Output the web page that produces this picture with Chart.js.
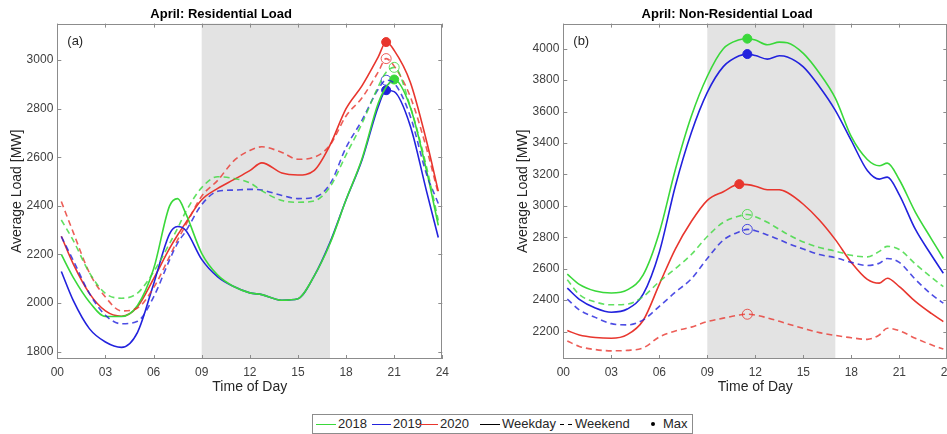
<!DOCTYPE html>
<html>
<head>
<meta charset="utf-8">
<script src="https://cdn.jsdelivr.net/npm/chart.js@4.4.1/dist/chart.umd.min.js"></script>
<style>
  html, body { margin: 0; padding: 0; background: #fff; width: 947px; height: 434px; overflow: hidden; }
  .box { position: absolute; top: 0; height: 402px; }
  #leftBox { left: 0; width: 470px; }
  #rightBox { left: 470px; width: 490px; }
  #legend { position: absolute; left: 312px; top: 414px; width: 379px; height: 18px; border: 1px solid #8c8c8c; background: #fff;
            font: 13px "Liberation Sans", Arial, sans-serif; color: #262626; }
  #legend .ln { position: absolute; top: 9px; height: 0; border-top: 1.5px solid; }
  #legend .tx { position: absolute; top: 0; line-height: 18px; }
  #legend .dot { position: absolute; top: 7px; width: 4px; height: 4px; border-radius: 50%; background: #000; }
</style>
</head>
<body>
<div id="leftBox" class="box"><canvas id="resChart"></canvas></div>
<div id="rightBox" class="box"><canvas id="nonChart"></canvas></div>
<div id="legend">
  <span class="ln" style="left:3px;width:20px;border-color:#3ad83a"></span><span class="tx" style="left:25px">2018</span>
  <span class="ln" style="left:59px;width:19px;border-color:#2222dd"></span><span class="tx" style="left:80px">2019</span>
  <span class="ln" style="left:106px;width:19px;border-color:#e8362e"></span><span class="tx" style="left:127px">2020</span>
  <span class="ln" style="left:167px;width:20px;border-color:#000"></span><span class="tx" style="left:189px">Weekday</span>
  <span class="ln" style="left:247px;width:4px;border-color:#000"></span><span class="ln" style="left:255px;width:4px;border-color:#000"></span><span class="tx" style="left:262px">Weekend</span>
  <span class="dot" style="left:338px"></span><span class="tx" style="left:350px">Max</span>
</div>
<script>
// ---- data ----
const xTicks = [0, 3, 6, 9, 12, 15, 18, 21, 24];
const shadeHours = [9, 17];

// (a) residential
const resHours = [0.25, 1, 2, 3, 4, 5, 6, 7, 7.5, 8, 9, 10, 11, 12, 12.75, 14, 15, 16, 17, 18, 19, 20, 20.5, 21, 22, 23, 23.75];
const resWd2018 = [2200, 2105, 2005, 1945, 1945, 1990, 2140, 2400, 2430, 2370, 2205, 2115, 2068, 2042, 2035, 2012, 2018, 2110, 2245, 2425, 2595, 2821, 2889, 2920, 2807, 2550, 2320];
const resWd2019 = [2130, 2010, 1895, 1840, 1818, 1880, 2078, 2285, 2315, 2300, 2180, 2108, 2068, 2042, 2035, 2012, 2018, 2110, 2250, 2425, 2590, 2807, 2876, 2870, 2730, 2465, 2270];
const resWd2020 = [2275, 2160, 2040, 1968, 1946, 1985, 2100, 2225, 2280, 2330, 2425, 2472, 2508, 2545, 2577, 2535, 2527, 2545, 2650, 2800, 2895, 3012, 3074, 3040, 2910, 2671, 2460];
const resWe2018 = [2342, 2257, 2125, 2040, 2020, 2041, 2128, 2245, 2308, 2375, 2475, 2520, 2513, 2495, 2462, 2422, 2415, 2420, 2478, 2610, 2740, 2890, 2950, 2970, 2810, 2565, 2340];
const resWe2019 = [2274, 2175, 2040, 1950, 1915, 1925, 2025, 2178, 2247, 2295, 2405, 2460, 2465, 2468, 2465, 2443, 2430, 2435, 2490, 2640, 2753, 2880, 2917, 2905, 2770, 2534, 2410];
const resWe2020 = [2418, 2290, 2125, 2025, 1968, 1980, 2063, 2192, 2260, 2320, 2440, 2505, 2585, 2628, 2643, 2620, 2592, 2600, 2650, 2770, 2845, 2950, 3006, 2975, 2850, 2640, 2450];
const resYTicks = [1800, 2000, 2200, 2400, 2600, 2800, 3000];
const resYRange = [1770, 3150];

// (b) non-residential
const nonHours = [0.25, 1, 2, 3, 4, 5, 6, 7, 8, 9, 10, 11, 11.5, 12, 12.75, 13.5, 14, 15, 16, 17, 18, 19, 19.75, 20.25, 21, 22, 23, 23.75];
const nonWd2018 = [2565, 2500, 2458, 2445, 2465, 2562, 2830, 3230, 3570, 3825, 4000, 4057, 4064, 4055, 4025, 4042, 4038, 3970, 3845, 3685, 3440, 3295, 3255, 3272, 3166, 2960, 2790, 2665];
const nonWd2019 = [2476, 2405, 2350, 2323, 2343, 2440, 2705, 3125, 3465, 3722, 3886, 3955, 3966, 3957, 3934, 3955, 3948, 3885, 3760, 3608, 3415, 3225, 3170, 3183, 3070, 2851, 2687, 2571];
const nonWd2020 = [2206, 2178, 2162, 2157, 2180, 2272, 2500, 2725, 2900, 3035, 3090, 3138, 3135, 3125, 3102, 3102, 3085, 3010, 2910, 2785, 2640, 2532, 2508, 2539, 2486, 2392, 2315, 2263];
const nonWe2018 = [2529, 2435, 2388, 2370, 2374, 2423, 2518, 2600, 2690, 2805, 2895, 2935, 2945, 2930, 2895, 2850, 2820, 2770, 2735, 2712, 2685, 2675, 2710, 2742, 2722, 2630, 2545, 2486];
const nonWe2019 = [2406, 2338, 2290, 2250, 2242, 2274, 2360, 2450, 2535, 2665, 2782, 2835, 2850, 2842, 2815, 2785, 2762, 2725, 2690, 2670, 2640, 2620, 2635, 2665, 2640, 2532, 2437, 2380];
const nonWe2020 = [2140, 2105, 2085, 2077, 2080, 2096, 2165, 2203, 2228, 2263, 2285, 2305, 2310, 2305, 2287, 2265, 2249, 2220, 2193, 2175, 2160, 2150, 2178, 2221, 2205, 2157, 2115, 2088];
const nonYTicks = [2200, 2400, 2600, 2800, 3000, 3200, 3400, 3600, 3800, 4000];
const nonYRange = [2025, 4160];

const years = ['2018', '2019', '2020'];
const colors = ['#3ad83a', '#2222dd', '#e8362e'];
const fontFam = '"Liberation Sans", Arial, Helvetica, sans-serif';

function pts(hours, vals) {
  return hours.map((h, i) => ({x: h, y: vals[i]}));
}
function peak(hours, vals) {
  const i = vals.indexOf(Math.max(...vals));
  return [{x: hours[i], y: vals[i]}];
}
function fade(hex, a) {
  const n = parseInt(hex.slice(1), 16);
  return `rgba(${n >> 16},${(n >> 8) & 255},${n & 255},${a})`;
}

// grey band, box and inward ticks like the original figure
const boxPlugin = {
  id: 'matlabBox',
  beforeDatasetsDraw(chart, args, opts) {
    const {ctx, chartArea: a, scales: {x}} = chart;
    const x0 = x.getPixelForValue(opts.shade[0]);
    const x1 = x.getPixelForValue(opts.shade[1]);
    ctx.save();
    ctx.fillStyle = '#e3e3e3';
    ctx.fillRect(x0, a.top, x1 - x0, a.bottom - a.top);
    ctx.restore();
  },
  afterDraw(chart, args, opts) {
    const {ctx, chartArea: a, scales: {x, y}} = chart;
    ctx.save();
    ctx.strokeStyle = '#8c8c8c';
    ctx.lineWidth = 1;
    ctx.strokeRect(Math.round(a.left) + 0.5, Math.round(a.top) + 0.5, Math.round(a.right - a.left) - 1, Math.round(a.bottom - a.top) - 1);
    ctx.beginPath();
    x.ticks.forEach(t => {
      const px = Math.round(x.getPixelForValue(t.value)) + 0.5;
      ctx.moveTo(px, a.bottom); ctx.lineTo(px, a.bottom - 4);
      ctx.moveTo(px, a.top); ctx.lineTo(px, a.top + 4);
    });
    y.ticks.forEach(t => {
      const py = Math.round(y.getPixelForValue(t.value)) + 0.5;
      ctx.moveTo(a.left, py); ctx.lineTo(a.left + 4, py);
      ctx.moveTo(a.right, py); ctx.lineTo(a.right - 4, py);
    });
    ctx.stroke();
    ctx.fillStyle = '#262626';
    ctx.font = '13px ' + fontFam;
    ctx.textBaseline = 'middle';
    ctx.fillText(opts.tag, a.left + 10, a.top + 18);
    ctx.restore();
  }
};

function makeChart(id, title, tag, hours, wd, we, yTicks, yRange, padLeft, padRight) {
  const datasets = [];
  [0, 1, 2].forEach(k => {
    datasets.push({
      label: years[k] + ' Weekend', data: pts(hours, we[k]),
      borderColor: fade(colors[k], 0.8), borderWidth: 1.6, borderDash: [6, 4],
      pointRadius: 0, cubicInterpolationMode: 'monotone'
    });
  });
  [0, 1, 2].forEach(k => {
    datasets.push({
      label: years[k] + ' Weekday', data: pts(hours, wd[k]),
      borderColor: colors[k], borderWidth: 1.6,
      pointRadius: 0, cubicInterpolationMode: 'monotone'
    });
  });
  [0, 1, 2].forEach(k => {
    datasets.push({
      label: years[k] + ' Weekend max', data: peak(hours, we[k]), showLine: false,
      pointRadius: 5, pointBorderWidth: 1, pointBorderColor: fade(colors[k], 0.8),
      pointBackgroundColor: 'rgba(0,0,0,0)'
    });
    datasets.push({
      label: years[k] + ' Weekday max', data: peak(hours, wd[k]), showLine: false,
      pointRadius: 4.5, pointBorderWidth: 1, pointBorderColor: colors[k],
      pointBackgroundColor: colors[k]
    });
  });

  return new Chart(document.getElementById(id), {
    type: 'line',
    data: {datasets},
    plugins: [boxPlugin],
    options: {
      responsive: true,
      maintainAspectRatio: false,
      animation: false,
      layout: {padding: {left: padLeft, right: padRight, top: 0, bottom: 0}},
      plugins: {
        legend: {display: false},
        tooltip: {enabled: false},
        title: {
          display: true, text: title, color: '#000',
          font: {family: fontFam, size: 13, weight: 'bold'},
          padding: {top: 7, bottom: 1}
        },
        matlabBox: {shade: shadeHours, tag: tag}
      },
      scales: {
        x: {
          type: 'linear', min: 0, max: 24,
          afterBuildTicks: s => { s.ticks = xTicks.map(v => ({value: v})); },
          afterFit: s => { s.height = 43; },
          grid: {display: false, drawTicks: false},
          border: {display: false},
          ticks: {
            padding: 6, color: '#404040', font: {family: fontFam, size: 12},
            maxRotation: 0, autoSkip: false,
            callback: v => String(v).padStart(2, '0')
          },
          title: {
            display: true, text: 'Time of Day', color: '#262626',
            font: {family: fontFam, size: 14}, padding: {top: 0, bottom: 6}
          }
        },
        y: {
          min: yRange[0], max: yRange[1],
          afterBuildTicks: s => { s.ticks = yTicks.map(v => ({value: v})); },
          afterFit: s => { s.width = 57.3; },
          grid: {display: false, drawTicks: false},
          border: {display: false},
          ticks: {
            padding: 4, color: '#404040', font: {family: fontFam, size: 12},
            callback: v => String(v)
          },
          title: {
            display: true, text: 'Average Load [MW]', color: '#262626',
            font: {family: fontFam, size: 14}, padding: {top: 9, bottom: 0}
          }
        }
      }
    }
  });
}

makeChart('resChart', 'April: Residential Load', '(a)', resHours,
  [resWd2018, resWd2019, resWd2020], [resWe2018, resWe2019, resWe2020],
  resYTicks, resYRange, 0, 27.7);
makeChart('nonChart', 'April: Non-Residential Load', '(b)', nonHours,
  [nonWd2018, nonWd2019, nonWd2020], [nonWe2018, nonWe2019, nonWe2020],
  nonYTicks, nonYRange, 36, 11.7);
</script>
</body>
</html>
